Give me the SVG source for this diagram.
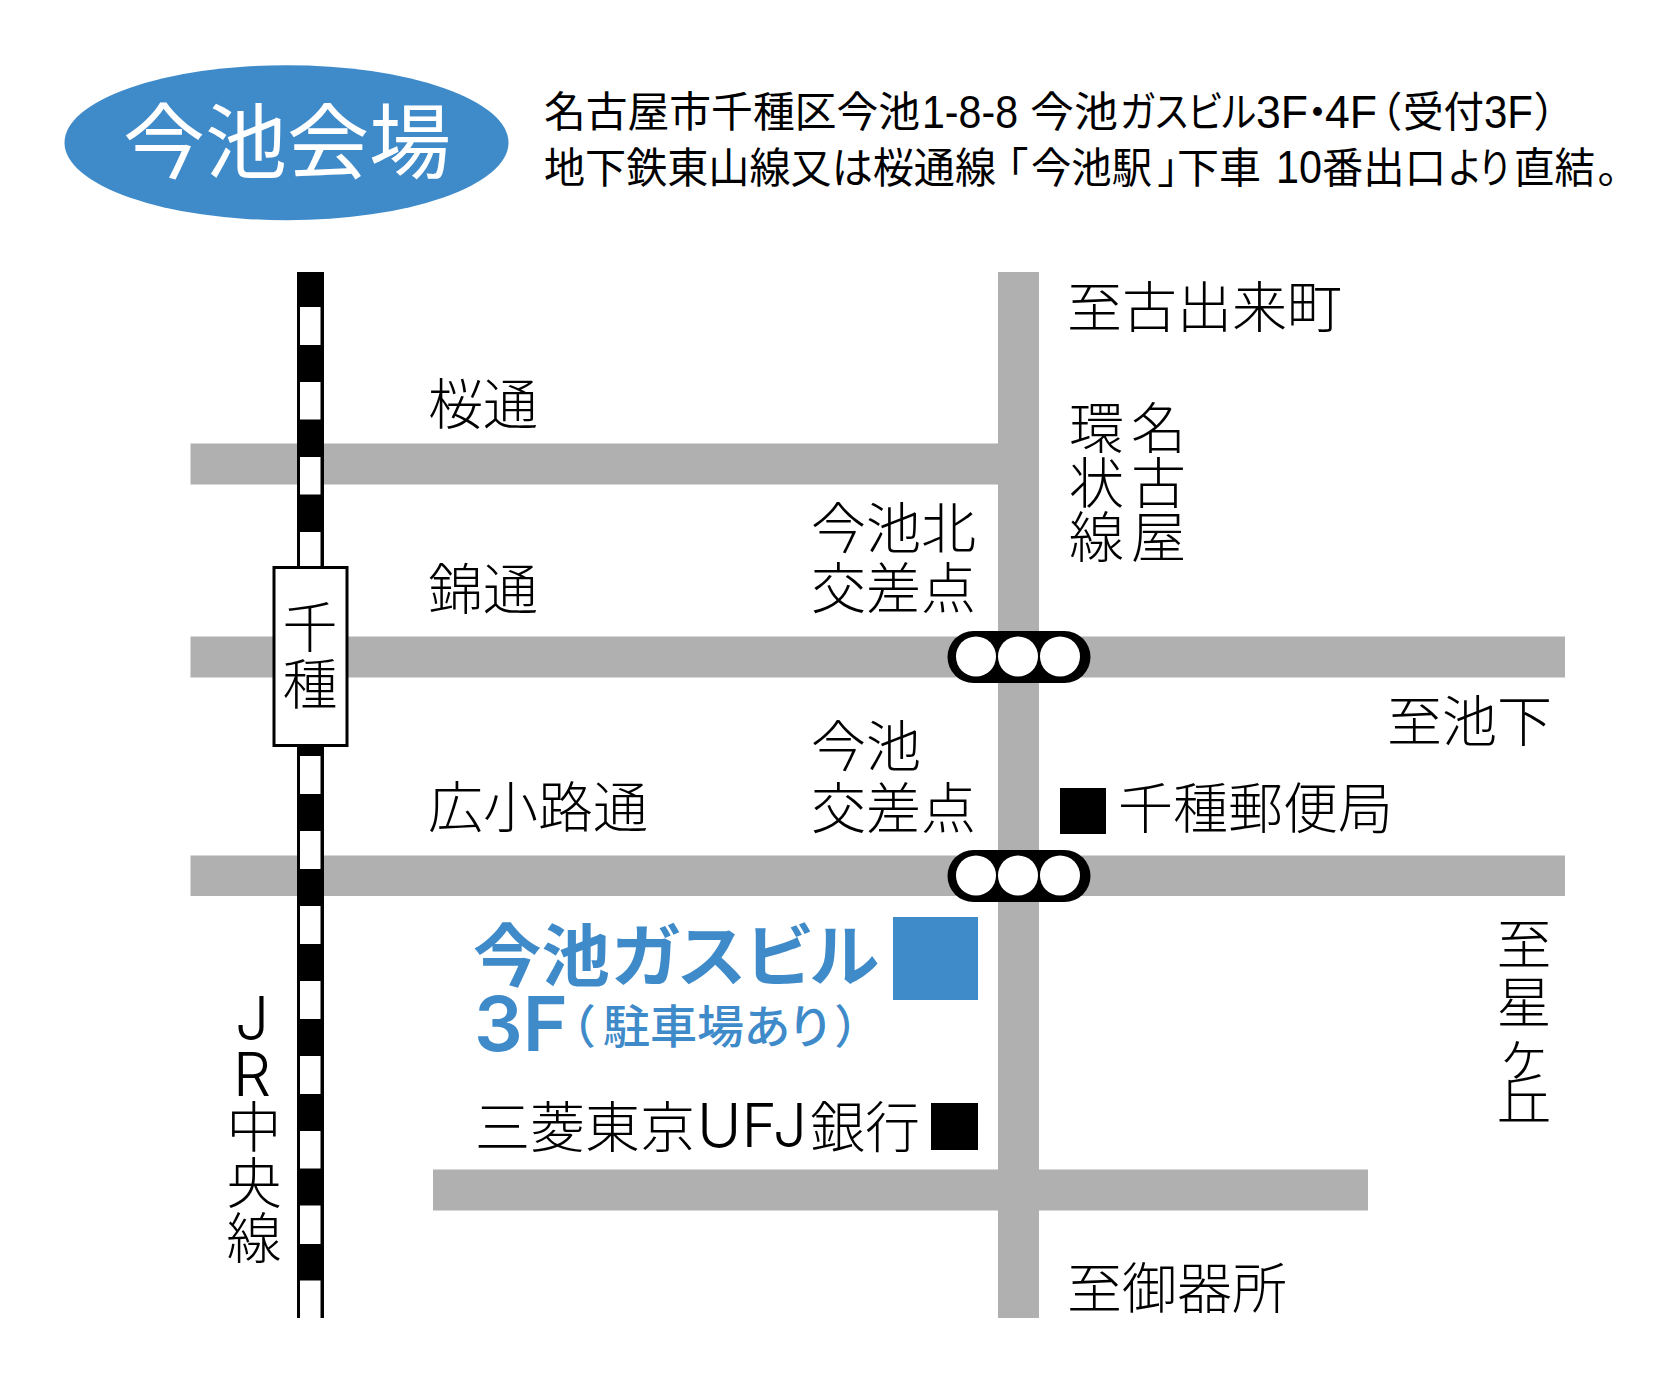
<svg xmlns="http://www.w3.org/2000/svg" width="1676" height="1378" viewBox="0 0 1676 1378">
<style>
text{font-family:"Noto Sans CJK JP","Liberation Sans",sans-serif;font-weight:300;fill:#000;font-feature-settings:"palt"}
.l{font-size:55px;font-feature-settings:normal}
.c{text-anchor:middle}
.h{font-size:41.5px;font-weight:400}
.d{font-family:"Liberation Sans",sans-serif;font-size:46px}
.i{font-family:Inter,"Liberation Sans",sans-serif;font-weight:300;font-size:60px}
.road{fill:#b0b0b0}
.w{fill:#fff}
.k{fill:#000}
.blue{fill:#3f8bca}
.b{font-weight:700;fill:#3f8bca}
</style>
<rect width="1676" height="1378" fill="#fff"/>
<g id="connectors">
<rect class="road" x="998" y="272" width="41" height="1046"/>
<rect class="road" x="190.500" y="443.500" width="808" height="41"/>
<rect class="road" x="190.500" y="636.500" width="1374.500" height="41"/>
<rect class="road" x="190.500" y="855.500" width="1374.500" height="40.500"/>
<rect class="road" x="433" y="1169.500" width="935" height="41"/>
</g>
<g id="rail">
<rect class="k" x="297" y="272" width="27" height="1046"/>
<rect class="w" x="300" y="307" width="20.500" height="38"/>
<rect class="w" x="300" y="382" width="20.500" height="37.500"/>
<rect class="w" x="300" y="457" width="20.500" height="37.500"/>
<rect class="w" x="300" y="532" width="20.500" height="38"/>
<rect class="w" x="300" y="756" width="20.500" height="38"/>
<rect class="w" x="300" y="831" width="20.500" height="38"/>
<rect class="w" x="300" y="906" width="20.500" height="38"/>
<rect class="w" x="300" y="981" width="20.500" height="38"/>
<rect class="w" x="300" y="1056" width="20.500" height="38"/>
<rect class="w" x="300" y="1131" width="20.500" height="37.500"/>
<rect class="w" x="300" y="1205.500" width="20.500" height="38.500"/>
<rect class="w" x="300" y="1280.500" width="20.500" height="37.500"/>
</g>
<g id="title">
<ellipse class="blue" cx="286.500" cy="142.700" rx="222" ry="77.500"/>
<text x="123" y="172" font-size="82" style="fill:#fff;font-weight:400;font-feature-settings:normal">今池会場</text>
</g>
<g id="address">
<text class="h" y="127"><tspan x="544" textLength="376" lengthAdjust="spacingAndGlyphs">名古屋市千種区今池</tspan><tspan class="d" x="922" y="128" textLength="96" lengthAdjust="spacingAndGlyphs">1-8-8</tspan><tspan x="1030" y="127" textLength="88" lengthAdjust="spacingAndGlyphs">今池</tspan><tspan x="1120" textLength="136" lengthAdjust="spacingAndGlyphs">ガスビル</tspan><tspan class="d" x="1256" y="128" textLength="52" lengthAdjust="spacingAndGlyphs">3F</tspan><tspan x="1307" y="127">・</tspan><tspan class="d" x="1325" y="128" textLength="52" lengthAdjust="spacingAndGlyphs">4F</tspan><tspan x="1380" y="127">（</tspan><tspan x="1403" textLength="81" lengthAdjust="spacingAndGlyphs">受付</tspan><tspan class="d" x="1484" y="128" textLength="49" lengthAdjust="spacingAndGlyphs">3F</tspan><tspan x="1535" y="127">）</tspan></text>
<text class="h" y="183"><tspan x="544" textLength="452" lengthAdjust="spacingAndGlyphs">地下鉄東山線又は桜通線</tspan><tspan x="1007">「</tspan><tspan x="1031" textLength="121" lengthAdjust="spacingAndGlyphs">今池駅</tspan><tspan x="1158">」</tspan><tspan x="1177" textLength="84" lengthAdjust="spacingAndGlyphs">下車</tspan><tspan class="d" x="1276" textLength="46" lengthAdjust="spacingAndGlyphs">10</tspan><tspan x="1322" textLength="124" lengthAdjust="spacingAndGlyphs">番出口</tspan><tspan x="1449" textLength="60" lengthAdjust="spacingAndGlyphs">より</tspan><tspan x="1514" textLength="81" lengthAdjust="spacingAndGlyphs">直結</tspan><tspan x="1597">。</tspan></text>
</g>
<g id="station-chikusa">
<rect x="274" y="567.500" width="73" height="178" fill="#fff" stroke="#000" stroke-width="3"/>
<text class="l c" x="310 310" y="647 704">千種</text>
</g>
<g id="signal-north">
<rect class="k" x="947.500" y="631" width="143" height="52" rx="26"/>
<circle class="w" cx="976" cy="656.500" r="20"/>
<circle class="w" cx="1018" cy="656.500" r="20"/>
<circle class="w" cx="1060" cy="656.500" r="20"/>
</g>
<g id="signal-imaike">
<rect class="k" x="947.500" y="850" width="143" height="52" rx="26"/>
<circle class="w" cx="976" cy="875.500" r="20"/>
<circle class="w" cx="1018" cy="875.500" r="20"/>
<circle class="w" cx="1060" cy="875.500" r="20"/>
</g>
<g id="labels">
<text class="l" x="1067" y="327">至古出来町</text>
<text class="l" x="428" y="424">桜通</text>
<text class="l" x="428" y="609">錦通</text>
<text class="l" x="428" y="827">広小路通</text>
<text class="l"><tspan x="811" y="548">今池北</tspan><tspan x="811" y="608">交差点</tspan></text>
<text class="l"><tspan x="811" y="766">今池</tspan><tspan x="811" y="828">交差点</tspan></text>
<text class="l" x="1387" y="741">至池下</text>
<text class="l" x="1069 1069 1069" y="448 503 557">環状線</text>
<text class="l" x="1131 1131 1131" y="448 503 557">名古屋</text>
<text class="l c" x="1524 1524 1524 1524" y="964 1022 1074 1119">至星ヶ丘</text>
<text class="l c"><tspan class="i" x="252" y="1040">J</tspan><tspan class="i" x="252" y="1096">R</tspan><tspan x="254 254 254" y="1147 1203 1258">中央線</tspan></text>
<text class="l" x="1067" y="1308">至御器所</text>
</g>
<g id="post-office">
<rect class="k" x="1060" y="788" width="46" height="46"/>
<text class="l" x="1118" y="828">千種郵便局</text>
</g>
<g id="gas-building">
<rect class="blue" x="893" y="917" width="85" height="83"/>
<text class="b" y="981" font-size="68"><tspan x="473" textLength="137" lengthAdjust="spacingAndGlyphs">今池</tspan><tspan x="612" textLength="267" lengthAdjust="spacingAndGlyphs">ガスビル</tspan></text>
<text class="b" x="474" y="1051" font-size="76" style="font-family:Inter,'Liberation Sans',sans-serif;font-weight:600" textLength="94" lengthAdjust="spacingAndGlyphs">3F</text>
<text class="b" y="1043" font-size="46" style="font-weight:500"><tspan x="571">（</tspan><tspan x="603" textLength="226" lengthAdjust="spacingAndGlyphs">駐車場あり</tspan><tspan x="836">）</tspan></text>
</g>
<g id="bank">
<rect class="k" x="931" y="1103" width="47" height="47"/>
<text class="l" y="1147"><tspan x="475">三菱東京</tspan><tspan class="i" x="697" y="1147" textLength="110" lengthAdjust="spacingAndGlyphs">UFJ</tspan><tspan x="810" y="1147">銀行</tspan></text>
</g>
</svg>
